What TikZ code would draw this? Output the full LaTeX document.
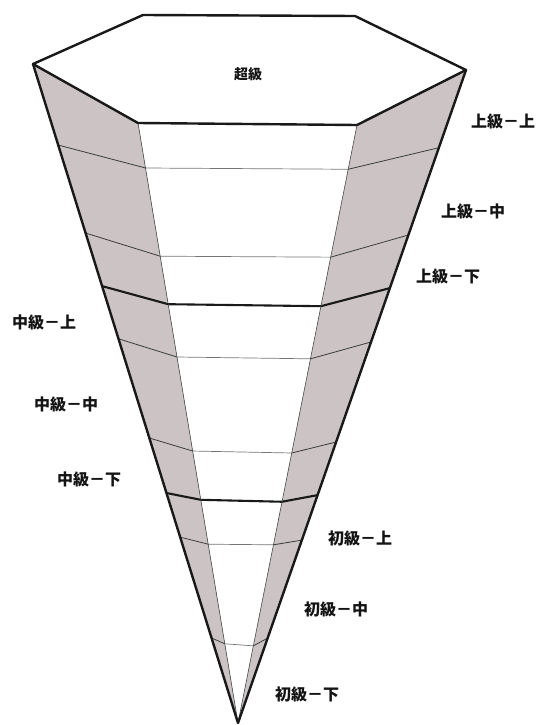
\documentclass[tikz,border=0pt]{standalone}
\usepackage{fontspec}
\newfontfamily\cjk{Noto Sans CJK JP}
\usetikzlibrary{calc}
\definecolor{facegray}{RGB}{203,195,196}
\definecolor{inkline}{RGB}{25,25,25}
\definecolor{textink}{RGB}{20,20,20}
\tikzset{
  face/.style={fill=facegray,draw=none},
  rim/.style={draw=inkline,line width=2.4pt,line join=round,line cap=round},
  inneredge/.style={draw=inkline!80,line width=0.6pt},
  thindiv/.style={draw=inkline!85,line width=0.8pt,line join=round},
  thickdiv/.style={draw=inkline,line width=2.1pt,line join=round},
  midthin/.style={draw=inkline!60,line width=0.7pt},
  lvl/.style={font=\cjk\bfseries\fontsize{16}{16}\selectfont,text=textink,inner sep=0pt},
}
\begin{document}
\begin{tikzpicture}[x=1pt,y=-1pt]
\useasboundingbox (0,0) rectangle (539,725);
% hexagon vertices
\coordinate (TL) at (143,15);
\coordinate (TR) at (355,16);
\coordinate (L) at (33,64);
\coordinate (R) at (466,70);
\coordinate (BL) at (138,123);
\coordinate (BR) at (357,125);
\coordinate (apex) at (238,723);
% faces
\fill[face] (L) -- (BL) -- (apex) -- cycle;
\fill[face] (R) -- (BR) -- (apex) -- cycle;
\fill[white] (TL) -- (TR) -- (R) -- (BR) -- (BL) -- (L) -- cycle;
% dividers: fractions along outer-left, inner-left, inner-right, outer-right edges
\foreach \n/\a/\b/\c/\d in {
  1/0.123/0.075/0.074/0.119,
  2/0.2565/0.222/0.221/0.2527,
  3/0.337/0.302/0.303/0.334,
  4/0.417/0.390/0.391/0.4165,
  5/0.5675/0.5467/0.5485/0.5697,
  6/0.651/0.628/0.630/0.651,
  7/0.718/0.702/0.702/0.720,
  8/0.871/0.868/0.871/0.870}{
  \coordinate (d\n a) at ($(L)!\a!(apex)$);
  \coordinate (d\n b) at ($(BL)!\b!(apex)$);
  \coordinate (d\n c) at ($(BR)!\c!(apex)$);
  \coordinate (d\n d) at ($(R)!\d!(apex)$);
}
\foreach \n in {1,2,4,5,7,8}{
  \draw[thindiv] (d\n a) -- (d\n b);
  \draw[thindiv] (d\n c) -- (d\n d);
  \draw[midthin] (d\n b) -- (d\n c);
}
\foreach \n in {3,6}{
  \draw[thickdiv] (d\n a) -- (d\n b) -- (d\n c) -- (d\n d);
}
% inner edges
\draw[inneredge] (BL) -- (apex);
\draw[inneredge] (BR) -- (apex);
% outer rims
\draw[rim] (L) -- (apex) -- (R);
\draw[rim] (TL) -- (TR) -- (R) -- (BR) -- (BL) -- (L) -- cycle;
% labels
\node[lvl,font=\cjk\bfseries\fontsize{14}{14}\selectfont] (top) at (248,74) {超級};
\node[lvl,anchor=west] (u1) at (471,121) {上級－上};
\node[lvl,anchor=west] (u2) at (441,211) {上級－中};
\node[lvl,anchor=west] (u3) at (416,276) {上級－下};
\node[lvl,anchor=west] (m1) at (12,322) {中級－上};
\node[lvl,anchor=west] (m2) at (34,404) {中級－中};
\node[lvl,anchor=west] (m3) at (57,479) {中級－下};
\node[lvl,anchor=west] (b1) at (328,538) {初級－上};
\node[lvl,anchor=west] (b2) at (304,609) {初級－中};
\node[lvl,anchor=west] (b3) at (275,694) {初級－下};
\end{tikzpicture}
\end{document}
